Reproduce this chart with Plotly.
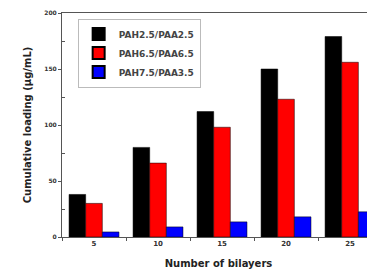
import plotly.graph_objects as go

bilayers = [5, 10, 15, 20, 25]
series_names = ["PAH2.5/PAA2.5", "PAH6.5/PAA6.5", "PAH7.5/PAA3.5"]
loading_25_25 = [38, 80, 112, 150, 179]
loading_65_65 = [30, 66, 98, 123, 156]
loading_75_35 = [4.5, 9, 13.5, 18, 22.5]
colors = ["#000000", "#ff0000", "#0000ff"]

fig = go.Figure()
for name, vals, c in zip(series_names, [loading_25_25, loading_65_65, loading_75_35], colors):
    fig.add_trace(go.Bar(x=bilayers, y=vals, name=name,
                         marker=dict(color=c, line=dict(color="#000000", width=0.5))))

font_family = "DejaVu Sans, Arial, sans-serif"
fig.update_layout(
    width=375, height=269,
    margin=dict(l=54, r=8, t=5, b=40, autoexpand=False),
    barmode="group", bargap=0.22, bargroupgap=0,
    plot_bgcolor="white", paper_bgcolor="white",
    font=dict(family=font_family, color="#222222", size=8),
    showlegend=True,
    legend=dict(x=0.05, y=0.975, xanchor="left", yanchor="top",
                bgcolor="rgba(255,255,255,0)", bordercolor="#bbbbbb", borderwidth=1,
                font=dict(size=9, color="#444444", weight="bold"),
                itemsizing="constant", tracegroupgap=0, itemwidth=30),
    xaxis=dict(range=[2.5, 26.95], tickvals=bilayers, ticktext=[str(b) for b in bilayers],
               automargin=False,
               showline=True, linecolor="#555555", linewidth=1, mirror=True,
               ticks="", showgrid=False, zeroline=False,
               tickfont=dict(size=7, weight="bold", color="#333333"),
               minor=dict(tick0=2.5, dtick=5, ticks="outside", ticklen=3, tickcolor="#555555", showgrid=False),
               title=dict(text="Number of bilayers", font=dict(size=10, color="#222222", weight="bold"), standoff=12)),
    yaxis=dict(range=[0, 200], tickvals=[0, 50, 100, 150, 200],
               automargin=False,
               showline=True, linecolor="#555555", linewidth=1, mirror=False,
               ticks="outside", ticklen=3, tickcolor="#555555", showgrid=False, zeroline=False,
               tickfont=dict(size=6, weight="bold", color="#333333"),
               minor=dict(tick0=25, dtick=50, ticks="inside", ticklen=3, tickcolor="#555555", showgrid=False),
               title=dict(text="Cumulative loading (μg/mL)", font=dict(size=10, color="#222222", weight="bold"), standoff=10)),
)

fig.write_html("out.html")
